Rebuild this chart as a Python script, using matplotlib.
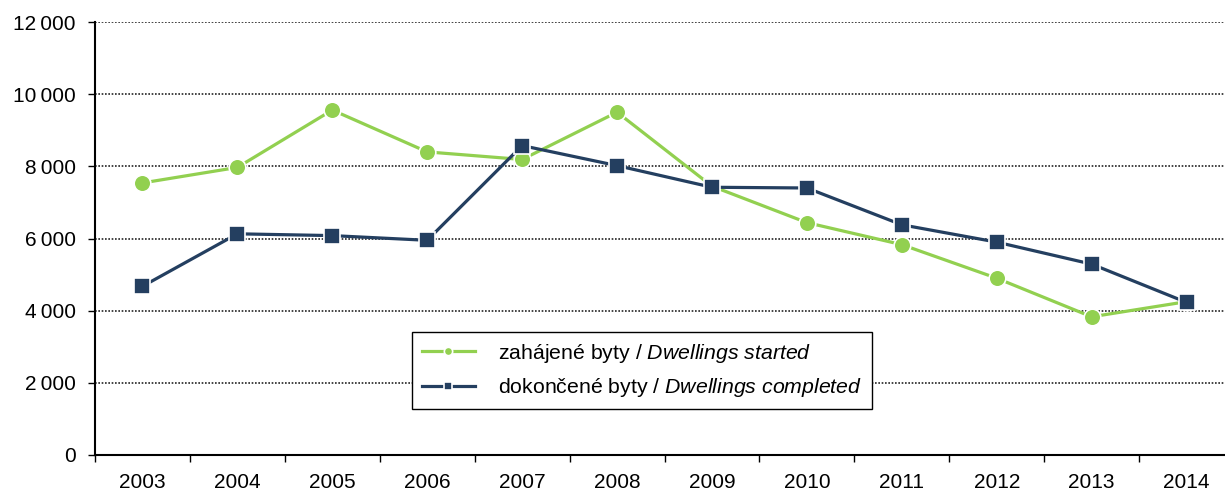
import matplotlib
matplotlib.use("Agg")
import matplotlib.pyplot as plt
from matplotlib.ticker import FixedLocator, FuncFormatter

years = ["2003", "2004", "2005", "2006", "2007", "2008", "2009", "2010", "2011", "2012", "2013", "2014"]
started = [7540, 7970, 9560, 8400, 8190, 9500, 7450, 6440, 5830, 4900, 3830, 4250]
completed = [4675, 6130, 6080, 5950, 8575, 8020, 7420, 7400, 6380, 5900, 5290, 4230]
label_started = "zahájené byty / $\\mathit{Dwellings\\ started}$"
label_completed = "dokončené byty / $\\mathit{Dwellings\\ completed}$"

plt.rcParams["font.family"] = ["Liberation Sans", "DejaVu Sans"]
plt.rcParams["mathtext.fontset"] = "custom"
plt.rcParams["mathtext.rm"] = "Liberation Sans"
plt.rcParams["mathtext.it"] = "Liberation Sans:italic"

green = "#92D050"
navy = "#243F60"

fig = plt.figure(figsize=(12.25, 4.91), dpi=100)
ax = fig.add_axes([95 / 1225, 1 - 455 / 491, (1234 - 95) / 1225, (455 - 22) / 491])

x = list(range(len(years)))
ax.plot(x, started, color=green, lw=2.3, marker="o", ms=12, mfc=green, mec="white", mew=1.2,
        label=label_started, zorder=3)
ax.plot(x, completed, color=navy, lw=2.3, marker="s", ms=12, mfc=navy, mec="white", mew=1.2,
        label=label_completed, zorder=4)

ax.set_xlim(-0.5, len(years) - 0.5)
ax.set_ylim(0, 12000)
ax.yaxis.set_major_locator(FixedLocator(range(0, 12001, 2000)))
ax.yaxis.set_major_formatter(FuncFormatter(lambda v, p: f"{int(v):,}".replace(",", "\u2009")))
ax.grid(axis="y", linestyle=(0, (1, 1)), color="#222222", lw=1.2)
ax.set_axisbelow(True)

ax.set_xticks([i - 0.5 for i in range(len(years) + 1)])
ax.set_xticklabels([])
ax.set_xticks(x, minor=True)
ax.set_xticklabels(years, minor=True)
ax.tick_params(axis="x", which="major", length=5, width=1, direction="out", color="black")
ax.tick_params(axis="x", which="minor", length=0, pad=13, labelsize=15)
ax.tick_params(axis="y", length=5, width=1, direction="out", labelsize=15, pad=9)

for s in ["top", "right"]:
    ax.spines[s].set_visible(False)
for s in ["left", "bottom"]:
    ax.spines[s].set_linewidth(1.5)
    ax.spines[s].set_color("black")

leg = ax.legend(loc="upper left", bbox_to_anchor=(412 / 1225, 1 - 332 / 491),
                bbox_transform=fig.transFigure, borderaxespad=0, fontsize=15.3,
                frameon=True, fancybox=False, framealpha=1, edgecolor="black",
                handlelength=2.5, handletextpad=1.1, borderpad=0.45, labelspacing=0.55,
                markerscale=0.5)
leg.get_frame().set_linewidth(1.0)

fig.savefig("out.png", dpi=100)
